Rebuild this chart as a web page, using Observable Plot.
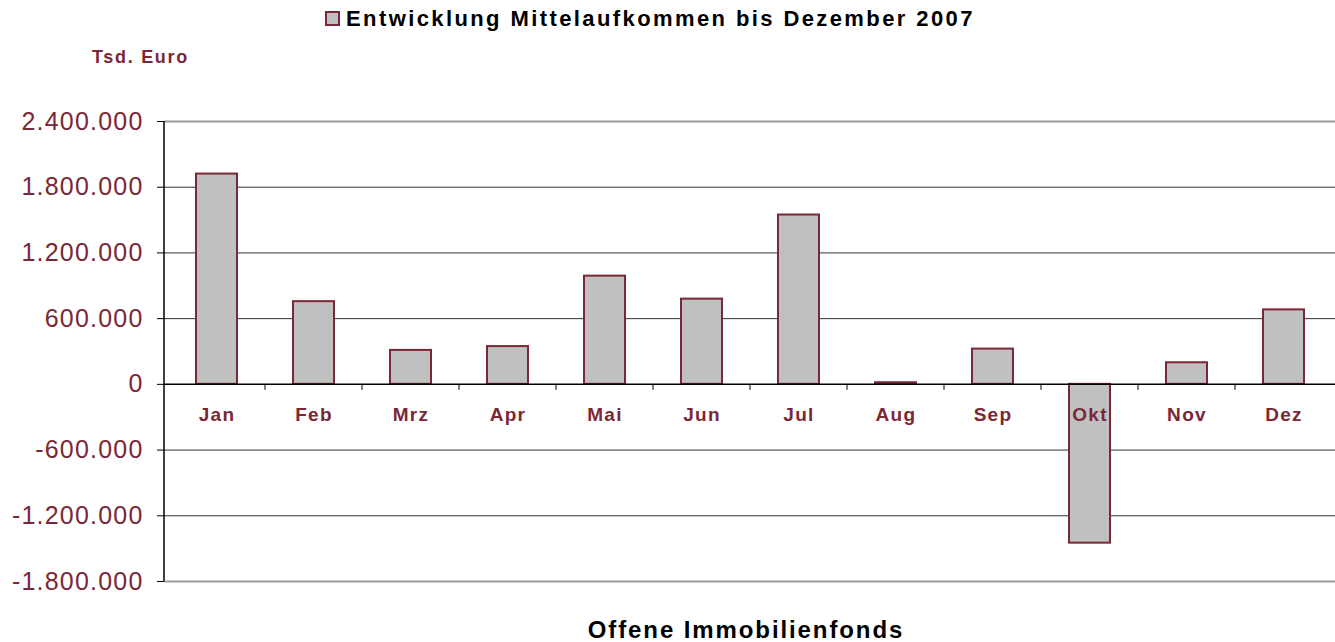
<!DOCTYPE html>
<html>
<head>
<meta charset="utf-8">
<script src="https://cdn.jsdelivr.net/npm/d3@7"></script>
<script src="https://cdn.jsdelivr.net/npm/@observablehq/plot@0.6"></script>
<style>
  html, body { margin: 0; padding: 0; background: #fff; }
  #wrap { position: relative; width: 1335px; height: 642px; font-family: "Liberation Sans", Arial, sans-serif; }
  #wrap svg { position: absolute; left: 0; top: 0; }
  .txt { position: absolute; white-space: nowrap; font-weight: bold; line-height: 1; }
  #title { left: 325px; top: 8px; font-size: 22px; color: #000; letter-spacing: 2.4px; }
  #title .sw { display: inline-block; width: 11px; height: 11px; background: #C0C0C0; border: 2px solid #7A2736; margin-right: 6px; vertical-align: 0px; }
  #unit { left: 92px; top: 48px; font-size: 18px; color: #7A2736; letter-spacing: 1.7px; }
  #caption { left: 0; width: 1492px; text-align: center; top: 618px; font-size: 24px; color: #000; letter-spacing: 1.9px; }
  g[aria-label="y-axis tick label"] text { letter-spacing: 1.2px; }
  .mlabel text { letter-spacing: 1.3px; }
</style>
</head>
<body>
<div id="wrap">
  <div class="txt" id="title"><span class="sw"></span>Entwicklung Mittelaufkommen bis Dezember 2007</div>
  <div class="txt" id="unit">Tsd. Euro</div>
  <div class="txt" id="caption">Offene Immobilienfonds</div>
</div>
<script>
const months = ["Jan","Feb","Mrz","Apr","Mai","Jun","Jul","Aug","Sep","Okt","Nov","Dez"];
const values = [1920000, 755000, 310000, 345000, 988000, 778000, 1546000, 15000, 322000, -1450000, 197000, 680000];
const yTicks = [-1800000, -1200000, -600000, 0, 600000, 1200000, 1800000, 2400000];

const maroon = "#7A2736";
const data = months.map((m, i) => ({month: m, value: values[i]}));
const fmt = d => d3.format(",")(d).replace(/,/g, ".").replace("\u2212", "-");

const innerGrid = yTicks.filter(t => t !== yTicks[0] && t !== yTicks[yTicks.length - 1] && t !== 0);
const edgeGrid = [yTicks[0], yTicks[yTicks.length - 1]];

function axisLines(index, scales, values, dims) {
  const g = d3.create("svg:g");
  const x0 = dims.marginLeft;
  const yTop = dims.marginTop, yBot = dims.height - dims.marginBottom;
  g.append("line").attr("x1", x0).attr("x2", x0).attr("y1", yTop).attr("y2", yBot)
    .attr("stroke", "#000").attr("stroke-width", 1.5);
  const bw = scales.x.bandwidth ? scales.x.bandwidth() : (dims.width - dims.marginLeft - dims.marginRight) / months.length;
  const y0 = scales.y(0);
  months.slice(0, -1).forEach(m => {
    const xb = scales.x(m) + bw;
    g.append("line").attr("x1", xb).attr("x2", xb).attr("y1", y0).attr("y2", y0 + 6)
      .attr("stroke", "#000").attr("stroke-width", 1);
  });
  return g.node();
}

const chart = Plot.plot({
  width: 1335,
  height: 642,
  marginLeft: 164,
  marginRight: 0,
  marginTop: 121,
  marginBottom: 61,
  style: {fontFamily: "'Liberation Sans', Arial, sans-serif", background: "transparent"},
  x: {type: "band", domain: months, padding: 0, axis: null},
  y: {domain: [yTicks[0], yTicks[yTicks.length - 1]], axis: null},
  marks: [
    Plot.ruleY(innerGrid, {stroke: "#333", strokeWidth: 1}),
    Plot.ruleY(edgeGrid, {stroke: "#9a9a9a", strokeWidth: 2}),
    Plot.barY(data, {x: "month", y: "value", fill: "#C0C0C0", stroke: maroon, strokeWidth: 2, insetLeft: 28, insetRight: 28}),
    Plot.ruleY([0], {stroke: "#000", strokeWidth: 1.5}),
    axisLines,
    Plot.axisY({ticks: yTicks, tickFormat: fmt, tickSize: 7, tickPadding: 14, fontSize: 25, color: maroon, stroke: "#000", label: null}),
    Plot.text(data, {x: "month", y: () => 0, text: "month", dy: 31, fontSize: 19, fontWeight: "bold", fill: maroon, className: "mlabel"})
  ]
});
document.getElementById("wrap").prepend(chart);
</script>
</body>
</html>
